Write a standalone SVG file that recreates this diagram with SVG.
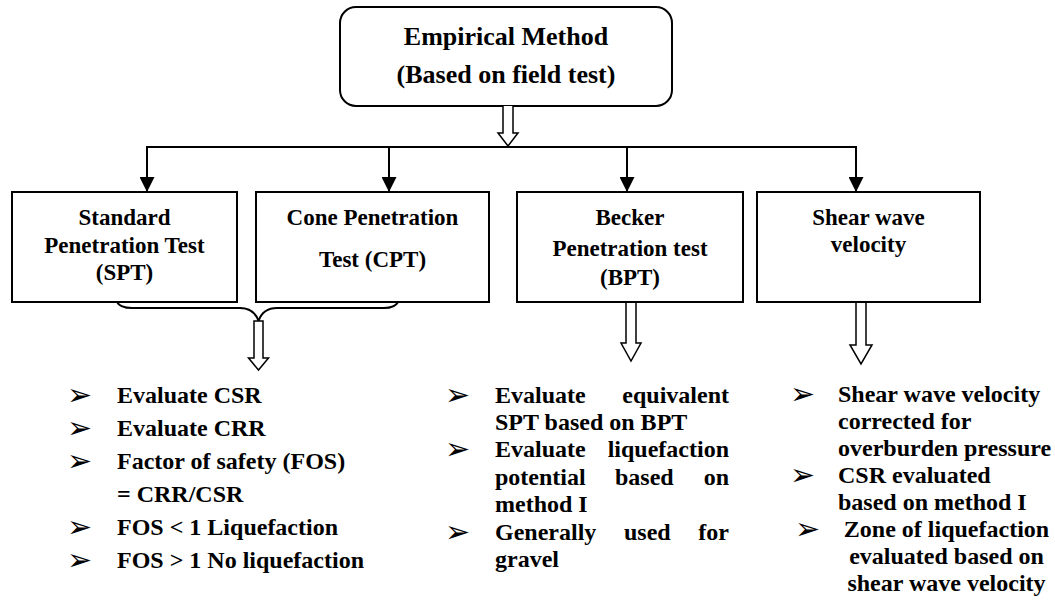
<svg xmlns="http://www.w3.org/2000/svg" width="1055" height="604" viewBox="0 0 1055 604">
<style>
.box{fill:#fff;stroke:#000;stroke-width:2}
.t{font-family:"Liberation Serif","Times New Roman",serif;font-weight:bold;fill:#000}
.top{font-size:26px;text-anchor:middle}
.node{font-size:23px;text-anchor:middle}
.bl{font-size:24px}
.end{text-anchor:end}
.mid{text-anchor:middle}
.b{font-family:"DejaVu Sans",sans-serif;font-size:30px;fill:#000}
.hollow{fill:#fff;stroke:#000;stroke-width:1.5;stroke-linejoin:miter}
.con{fill:none;stroke:#000;stroke-width:2}
</style>
<defs>
<marker id="ah" viewBox="0 0 10 10" refX="10" refY="5" markerWidth="15" markerHeight="15" markerUnits="userSpaceOnUse" orient="auto">
<path d="M0,0 L10,5 L0,10 Z" fill="#000"/>
</marker>
</defs>
<rect width="1055" height="604" fill="#fff"/>

<g id="top">
<rect class="box" x="340" y="7" width="332" height="99" rx="16" ry="16"/>
<text class="t top" x="506" y="45">Empirical Method</text>
<text class="t top" x="506" y="83">(Based on field test)</text>
</g>

<g id="connectors">
<path class="hollow" d="M503,106 L503,133 L498,133 L508,146 L518,133 L513,133 L513,106"/>
<line class="con" x1="147" y1="147" x2="856" y2="147"/>
<line class="con" x1="147" y1="146" x2="147" y2="192" marker-end="url(#ah)"/>
<line class="con" x1="389" y1="147" x2="389" y2="192" marker-end="url(#ah)"/>
<line class="con" x1="627" y1="147" x2="627" y2="192" marker-end="url(#ah)"/>
<line class="con" x1="856" y1="146" x2="856" y2="192" marker-end="url(#ah)"/>
<path class="con" d="M117,302 Q120,308 132,308 L240,308 Q254,308 258.5,321 Q263,308 277,308 L384,308 Q395,308 398,302"/>
<path class="hollow" d="M254,321 L254,358 L248.5,358 L258.5,370 L268.5,358 L263,358 L263,321 Z"/>
<path class="hollow" d="M626,302 L626,343 L621,343 L631,361 L641,343 L636,343 L636,302"/>
<path class="hollow" d="M856,302 L856,345 L850,345 L861,364 L872,345 L866,345 L866,302"/>
</g>

<g id="spt">
<rect class="box" x="12" y="192" width="225" height="110"/>
<text class="t node" x="124.5" y="225">Standard</text>
<text class="t node" x="124.5" y="253">Penetration Test</text>
<text class="t node" x="124.5" y="280">(SPT)</text>
</g>

<g id="cpt">
<rect class="box" x="256" y="192" width="233" height="110"/>
<text class="t node" x="372.5" y="225">Cone Penetration</text>
<text class="t node" x="372.5" y="267">Test (CPT)</text>
</g>

<g id="bpt">
<rect class="box" x="517" y="192" width="226" height="110"/>
<text class="t node" x="630" y="225">Becker</text>
<text class="t node" x="630" y="256">Penetration test</text>
<text class="t node" x="630" y="285">(BPT)</text>
</g>

<g id="vs">
<rect class="box" x="757" y="192" width="223" height="110"/>
<text class="t node" x="868.5" y="225">Shear wave</text>
<text class="t node" x="868.5" y="252">velocity</text>
</g>

<g id="list-spt-cpt">
<text class="b" x="67" y="405">➢</text>
<text class="b" x="67" y="438">➢</text>
<text class="b" x="67" y="471">➢</text>
<text class="b" x="67" y="537">➢</text>
<text class="b" x="67" y="570">➢</text>
<text class="t bl" x="117" y="403">Evaluate CSR</text>
<text class="t bl" x="117" y="436">Evaluate CRR</text>
<text class="t bl" x="117" y="469">Factor of safety (FOS)</text>
<text class="t bl" x="117" y="502">= CRR/CSR</text>
<text class="t bl" x="117" y="535">FOS &lt; 1 Liquefaction</text>
<text class="t bl" x="117" y="568">FOS &gt; 1 No liquefaction</text>
</g>

<g id="list-bpt">
<text class="b" x="445" y="405">➢</text>
<text class="b" x="445" y="459">➢</text>
<text class="b" x="445" y="542">➢</text>
<text class="t bl" x="495" y="403">Evaluate</text>
<text class="t bl end" x="729" y="403">equivalent</text>
<text class="t bl" x="495" y="430">SPT based on BPT</text>
<text class="t bl" x="495" y="457">Evaluate</text>
<text class="t bl end" x="729" y="457">liquefaction</text>
<text class="t bl" x="495" y="485">potential</text>
<text class="t bl" x="615" y="485">based</text>
<text class="t bl end" x="729" y="485">on</text>
<text class="t bl" x="495" y="512">method I</text>
<text class="t bl" x="495" y="540">Generally</text>
<text class="t bl" x="624" y="540">used</text>
<text class="t bl end" x="729" y="540">for</text>
<text class="t bl" x="495" y="567">gravel</text>
</g>

<g id="list-vs">
<text class="b" x="790" y="404">➢</text>
<text class="b" x="790" y="485">➢</text>
<text class="b" x="795" y="539">➢</text>
<text class="t bl" x="838" y="402">Shear wave velocity</text>
<text class="t bl" x="838" y="429">corrected for</text>
<text class="t bl" x="838" y="456">overburden pressure</text>
<text class="t bl" x="838" y="483">CSR evaluated</text>
<text class="t bl" x="838" y="510">based on method I</text>
<text class="t bl mid" x="946.5" y="537">Zone of liquefaction</text>
<text class="t bl mid" x="946.5" y="564">evaluated based on</text>
<text class="t bl mid" x="946.5" y="591">shear wave velocity</text>
</g>
</svg>
